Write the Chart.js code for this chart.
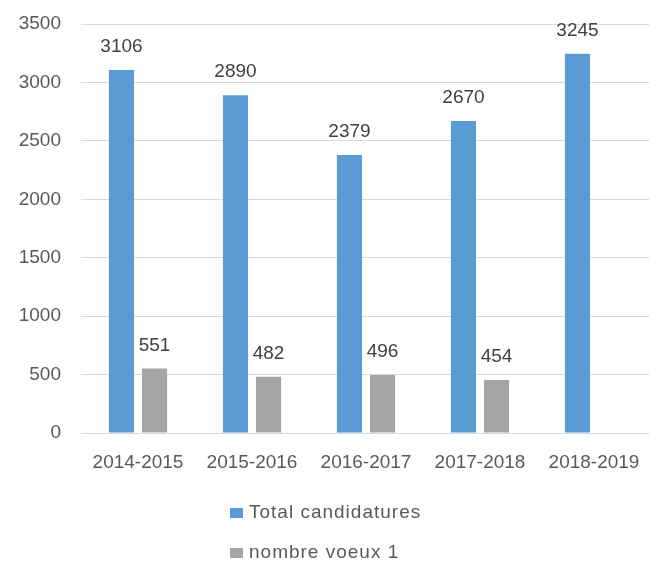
<!DOCTYPE html>
<html>
<head>
<meta charset="utf-8">
<script src="https://cdn.jsdelivr.net/npm/chart.js@4/dist/chart.umd.min.js"></script>
<style>
html,body{margin:0;padding:0;background:#fff;overflow:hidden;}
#wrap{position:relative;width:649px;height:564px;overflow:hidden;}
</style>
</head>
<body>
<div id="wrap"><canvas id="c" width="651" height="564"></canvas></div>
<script>
const categories = ["2014-2015", "2015-2016", "2016-2017", "2017-2018", "2018-2019"];
const totalCandidatures = [3106, 2890, 2379, 2670, 3245];
const nombreVoeux1 = [551, 482, 496, 454, null];
const seriesNames = ["Total candidatures", "nombre voeux 1"];
const yTicks = [0, 500, 1000, 1500, 2000, 2500, 3000, 3500];

const FONT = "'Liberation Sans', Arial, sans-serif";

const dataLabels = {
  id: 'dataLabels',
  afterDatasetsDraw(chart) {
    const ctx = chart.ctx;
    ctx.save();
    ctx.font = "19px " + FONT;
    ctx.fillStyle = "#404040";
    ctx.textAlign = "center";
    ctx.textBaseline = "alphabetic";
    chart.data.datasets.forEach((ds, i) => {
      const meta = chart.getDatasetMeta(i);
      meta.data.forEach((bar, j) => {
        const v = ds.data[j];
        if (v === null || v === undefined) return;
        ctx.fillText(String(v), bar.x, bar.y - 18);
      });
    });
    ctx.restore();
  }
};

const vLegend = {
  id: 'vLegend',
  afterDraw(chart) {
    const ctx = chart.ctx;
    ctx.save();
    ctx.font = "19px " + FONT;
    ctx.textBaseline = "middle";
    ctx.textAlign = "left";
    try { ctx.letterSpacing = "1px"; } catch (e) {}
    const ys = [513, 553];
    chart.data.datasets.forEach((ds, i) => {
      const y = ys[i];
      ctx.fillStyle = ds.backgroundColor;
      ctx.fillRect(230, y - 5, 13, 10);
      ctx.fillStyle = "#595959";
      ctx.fillText(ds.label, 249, y);
    });
    ctx.restore();
  }
};

new Chart(document.getElementById('c'), {
  type: 'bar',
  data: {
    labels: categories,
    datasets: [
      { label: seriesNames[0], data: totalCandidatures, backgroundColor: "#5B9BD5",
        categoryPercentage: 0.58, barPercentage: 0.76 },
      { label: seriesNames[1], data: nombreVoeux1, backgroundColor: "#A5A5A5",
        categoryPercentage: 0.58, barPercentage: 0.76 }
    ]
  },
  options: {
    responsive: false,
    animation: false,
    devicePixelRatio: 1,
    layout: { padding: { top: 24, right: 0, bottom: 81, left: 0 } },
    plugins: {
      legend: { display: false },
      tooltip: { enabled: false }
    },
    scales: {
      x: {
        grid: { display: false, drawTicks: false },
        border: { display: false },
        ticks: { font: { family: FONT, size: 19 }, color: "#595959", padding: 18, maxRotation: 0 },
        afterFit(s) { s.height = 50; s.paddingLeft = 0; s.paddingRight = 0; }
      },
      y: {
        min: 0, max: 3500,
        afterBuildTicks(s) { s.ticks = yTicks.map(v => ({ value: v })); },
        grid: { color: "#d9d9d9", lineWidth: 1, drawTicks: false },
        border: { display: false },
        ticks: { font: { family: FONT, size: 19 }, color: "#595959", padding: 20,
                 callback: (v) => String(v) },
        afterFit(s) { s.width = 81; s.paddingTop = 0; s.paddingBottom = 0; }
      }
    }
  },
  plugins: [dataLabels, vLegend]
});
</script>
</body>
</html>
